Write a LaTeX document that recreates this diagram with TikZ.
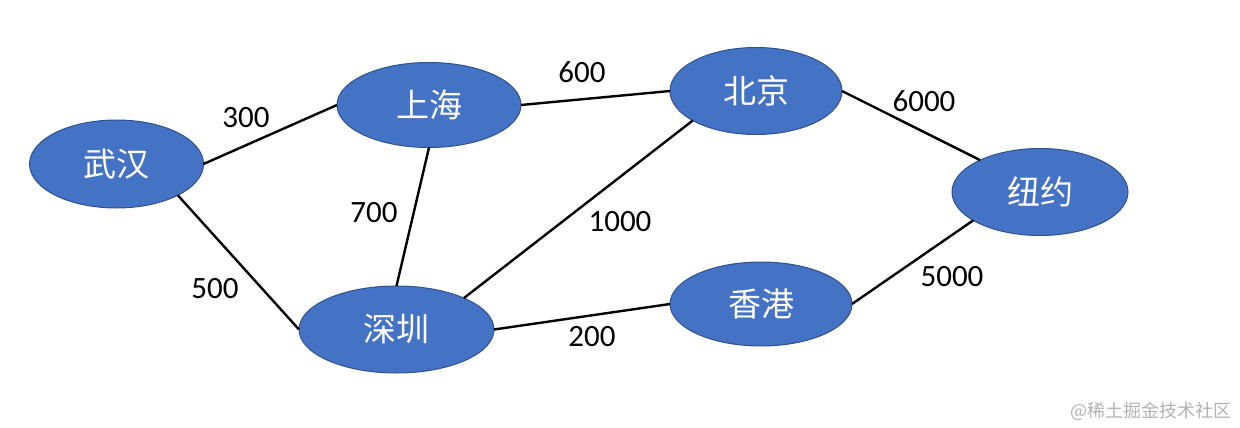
\documentclass[tikz,border=0pt]{standalone}
\usepackage{fontspec}
\setmainfont{Carlito}
\newfontfamily\cjk{Noto Sans CJK SC}
\usepackage{xcolor}
\usetikzlibrary{shapes,positioning,calc}
\definecolor{cityblue}{HTML}{4472C4}
\definecolor{cityedge}{HTML}{2F528F}

\begin{document}
\begin{tikzpicture}[x=1pt, y=-1pt,
    city/.style={ellipse, draw=cityedge, line width=1pt, fill=cityblue, text=white, inner sep=0pt, outer sep=0pt, minimum width=178pt, minimum height=86pt, font=\cjk\fontsize{33}{36}\selectfont},
    cost/.style={font=\fontsize{31}{34}\selectfont, text=black},
    link/.style={draw, line width=2.4pt, black}]

    \useasboundingbox (0,0) rectangle (1240,428);

    % Nodes
    \node [city, minimum width=174pt, minimum height=88pt] (wuhan) at (116.5,164) {武汉};
    \node [city, minimum width=184pt, minimum height=85pt] (shanghai) at (429,105) {上海};
    \node [city, minimum width=172pt, minimum height=87pt] (beijing) at (756,91) {北京};
    \node [city, minimum width=176pt, minimum height=87pt] (newyork) at (1040,192) {纽约};
    \node [city, minimum width=182pt, minimum height=84pt] (hongkong) at (761,304) {香港};
    \node [city, minimum width=195pt, minimum height=87pt] (shenzhen) at (396.5,329.5) {深圳};

    % Paths
    \path [link] (wuhan.east) -- (shanghai.west);
    \path [link] (shanghai.east) -- (beijing.west);
    \path [link] (beijing.east) -- (newyork.152);
    \path [link] (newyork.203) -- (hongkong.east);
    \path [link] (hongkong.west) -- (shenzhen.east);
    \path [link] (shenzhen.25) -- (beijing.205);
    \path [link] (shenzhen.north) -- (shanghai.south);
    \path [link] (wuhan.-27.5) -- (shenzhen.west);

    % Costs
    \node [cost] (c300) at (246,118) {300};
    \node [cost] (c600) at (582,72) {600};
    \node [cost] (c6000) at (924,101) {6000};
    \node [cost] (c700) at (374,213) {700};
    \node [cost] (c1000) at (620,222) {1000};
    \node [cost] (c500) at (215,289) {500};
    \node [cost] (c5000) at (952,277) {5000};
    \node [cost] (c200) at (592,337) {200};

    % Watermark
    \node [font=\cjk\fontsize{18}{20}\selectfont, text=black!30, anchor=east] (mark) at (1235,411) {@稀土掘金技术社区};

\end{tikzpicture}
\end{document}
